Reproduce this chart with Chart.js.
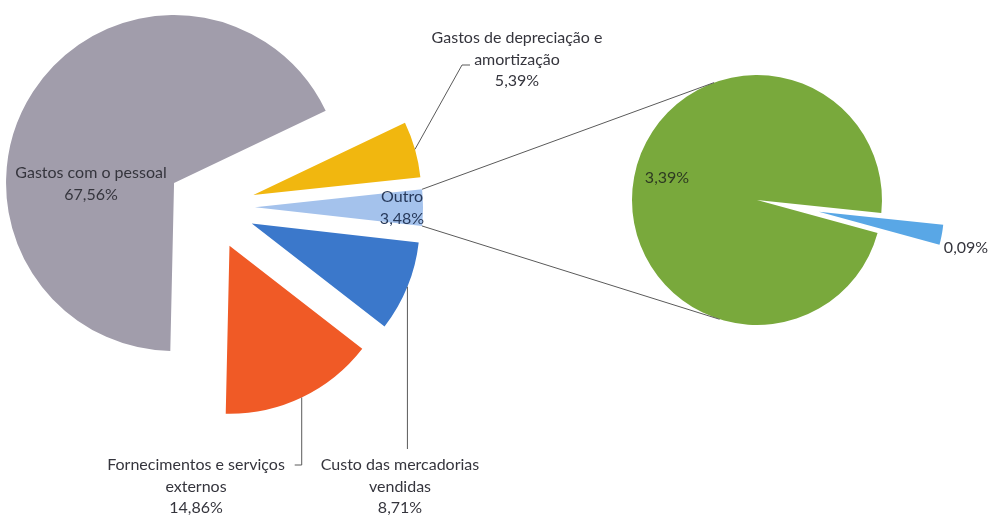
<!DOCTYPE html>
<html>
<head>
<meta charset="utf-8">
<script src="https://cdn.jsdelivr.net/npm/chart.js@4/dist/chart.umd.min.js"></script>
<style>
  html, body { margin: 0; padding: 0; background: #fff; }
  #wrap { position: relative; width: 990px; height: 516px; }
  #wrap canvas { position: absolute; left: 0; top: 0; }
</style>
</head>
<body>
<div id="wrap">
  <canvas id="mainPie" width="990" height="516"></canvas>
  <canvas id="subPie" width="990" height="516"></canvas>
</div>
<script>
// dados do gráfico principal (ordem no sentido horário)
const categories = ['Gastos de depreciação e amortização', 'Outro', 'Custo das mercadorias vendidas', 'Fornecimentos e serviços externos', 'Gastos com o pessoal'];
const values = [5.39, 3.48, 8.71, 14.86, 67.56];
// dados do gráfico secundário ("Outro" detalhado)
const subCategories = ['Outro B', 'Outro A'];
const subValues = [0.09, 3.39];

const mainColors = ['#f1b70f', '#a4c2ec', '#3b78cb', '#f05a26', '#a19dab'];
const subColors = ['#59a7e6', '#79a93c'];

// linhas de texto e posição de cada rótulo
const mainLabelLines = [
  ['Gastos de depreciação e', 'amortização'],
  ['Outro'],
  ['Custo das mercadorias', 'vendidas'],
  ['Fornecimentos e serviços', 'externos'],
  ['Gastos com o pessoal']
];
const mainLabelPos = [[517, 38], [402, 197], [400, 465], [196, 465], [91, 173]];
const subLabelPos = [[966, 248], [667, 178]];

const FONT = '16px Lato, "Open Sans", sans-serif';
const TEXT = '#35353d';
const LINE = '#5a5a5a';

function fmt(v) {
  return v.toFixed(2).replace('.', ',') + '%';
}

// afasta cada fatia do centro (o offset nativo do Chart.js também aumenta o raio)
function explodePlugin(amounts) {
  return {
    id: 'explode',
    afterUpdate(chart) {
      chart.getDatasetMeta(0).data.forEach((arc, i) => {
        const d = amounts[i] || 0;
        const mid = (arc.startAngle + arc.endAngle) / 2;
        arc.x += Math.cos(mid) * d;
        arc.y += Math.sin(mid) * d;
      });
    }
  };
}

function outerPoint(arc) {
  const mid = (arc.startAngle + arc.endAngle) / 2;
  return [arc.x + Math.cos(mid) * arc.outerRadius, arc.y + Math.sin(mid) * arc.outerRadius];
}

function drawLines(ctx, lines, cx, y, color) {
  ctx.fillStyle = color;
  lines.forEach((t, i) => ctx.fillText(t, cx, y + i * 21.5));
}

// rótulos + linhas de chamada do gráfico principal
const mainLabels = {
  id: 'mainLabels',
  afterDraw(chart) {
    const ctx = chart.ctx;
    const arcs = chart.getDatasetMeta(0).data;
    ctx.save();
    ctx.font = FONT;
    ctx.textAlign = 'center';
    ctx.textBaseline = 'middle';
    ctx.strokeStyle = LINE;
    ctx.lineWidth = 1;

    // depreciação
    let p = outerPoint(arcs[0]);
    ctx.beginPath();
    ctx.moveTo(p[0], p[1]);
    ctx.lineTo(462, 65);
    ctx.lineTo(470, 65);
    ctx.stroke();
    // custo
    p = outerPoint(arcs[2]);
    ctx.beginPath();
    ctx.moveTo(p[0], p[1]);
    ctx.lineTo(p[0], 449);
    ctx.stroke();
    // fornecimentos
    p = outerPoint(arcs[3]);
    ctx.beginPath();
    ctx.moveTo(p[0], p[1]);
    ctx.lineTo(p[0], 465);
    ctx.lineTo(p[0] - 7, 465);
    ctx.stroke();

    values.forEach((v, i) => {
      const lines = mainLabelLines[i].concat([fmt(v)]);
      const pos = mainLabelPos[i];
      drawLines(ctx, lines, pos[0], pos[1], i === 1 ? '#27395a' : TEXT);
    });
    ctx.restore();
  }
};

const mainChart = new Chart(document.getElementById('mainPie'), {
  type: 'pie',
  data: {
    labels: categories,
    datasets: [{
      data: values,
      backgroundColor: mainColors,
      borderWidth: 0
    }]
  },
  options: {
    responsive: false,
    animation: false,
    rotation: 64.5,
    radius: 168,
    layout: { padding: { left: 0, right: 568, top: 0, bottom: 102 } },
    plugins: { legend: { display: false }, tooltip: { enabled: false } }
  },
  plugins: [explodePlugin([44, 44, 44, 43, 44]), mainLabels]
});

// linhas de ligação + rótulos do gráfico secundário
const subLabels = {
  id: 'subLabels',
  afterDraw(chart) {
    const ctx = chart.ctx;
    const sub = chart.getDatasetMeta(0).data[1];
    const outro = mainChart.getDatasetMeta(0).data[1];
    const R = outro.outerRadius;
    const corners = [
      [outro.x + Math.cos(outro.startAngle) * R, outro.y + Math.sin(outro.startAngle) * R],
      [outro.x + Math.cos(outro.endAngle) * R, outro.y + Math.sin(outro.endAngle) * R]
    ];
    const cx = sub.x, cy = sub.y, r = sub.outerRadius;
    ctx.save();
    ctx.strokeStyle = LINE;
    ctx.lineWidth = 1;
    corners.forEach((c, i) => {
      const dx = c[0] - cx, dy = c[1] - cy;
      const d = Math.hypot(dx, dy);
      const base = Math.atan2(dy, dx);
      const a = Math.acos(r / d);
      const t = i === 0 ? base + a : base - a;
      ctx.beginPath();
      ctx.moveTo(c[0], c[1]);
      ctx.lineTo(cx + Math.cos(t) * r, cy + Math.sin(t) * r);
      ctx.stroke();
    });
    ctx.font = FONT;
    ctx.textAlign = 'center';
    ctx.textBaseline = 'middle';
    subValues.forEach((v, i) => {
      ctx.fillStyle = i === 1 ? '#2e3a22' : TEXT;
      ctx.fillText(fmt(v), subLabelPos[i][0], subLabelPos[i][1]);
    });
    ctx.restore();
  }
};

new Chart(document.getElementById('subPie'), {
  type: 'pie',
  data: {
    labels: subCategories,
    datasets: [{
      data: subValues,
      backgroundColor: subColors,
      borderWidth: 0
    }]
  },
  options: {
    responsive: false,
    animation: false,
    rotation: 96,
    radius: 125,
    layout: { padding: { left: 524, right: 0, top: 0, bottom: 116 } },
    plugins: { legend: { display: false }, tooltip: { enabled: false } }
  },
  plugins: [explodePlugin([63, 0]), subLabels]
});
</script>
</body>
</html>
